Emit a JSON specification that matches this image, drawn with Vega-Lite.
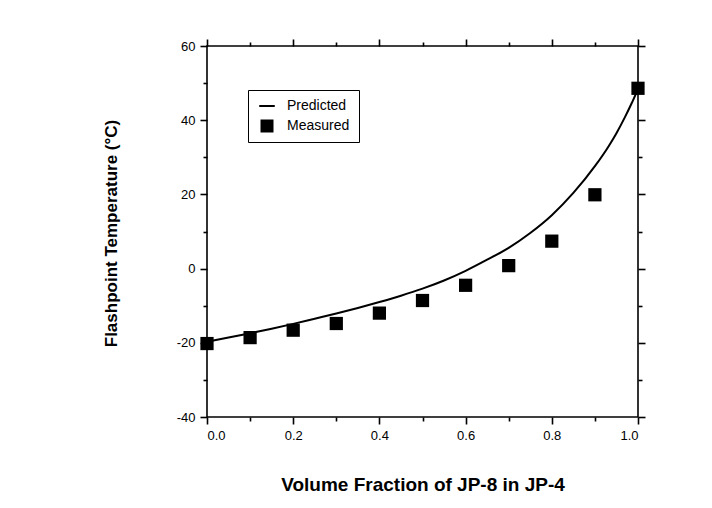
{
  "$schema": "https://vega.github.io/schema/vega-lite/v6.json",
  "width": 431,
  "height": 371,
  "autosize": {"type": "none"},
  "padding": {"left": 207, "top": 46, "right": 74, "bottom": 91},
  "background": "white",
  "config": {
    "font": "Liberation Sans",
    "view": {"stroke": "black", "strokeWidth": 1.6},
    "axis": {
      "domain": false,
      "grid": false,
      "tickColor": "black",
      "tickWidth": 1.6,
      "labelColor": "black",
      "labelFontSize": 13,
      "labelFont": "Liberation Sans",
      "titleColor": "black",
      "titleFont": "Liberation Sans",
      "titleFontWeight": "bold"
    }
  },
  "datasets": {
    "curve": [
      {"fraction": 0.0, "temp": -19.7},
      {"fraction": 0.05, "temp": -18.6},
      {"fraction": 0.1, "temp": -17.4},
      {"fraction": 0.15, "temp": -16.2},
      {"fraction": 0.2, "temp": -14.9},
      {"fraction": 0.25, "temp": -13.5},
      {"fraction": 0.3, "temp": -12.1},
      {"fraction": 0.35, "temp": -10.6},
      {"fraction": 0.4, "temp": -9.0},
      {"fraction": 0.45, "temp": -7.3},
      {"fraction": 0.5, "temp": -5.4},
      {"fraction": 0.55, "temp": -3.2},
      {"fraction": 0.6, "temp": -0.6},
      {"fraction": 0.65, "temp": 2.4},
      {"fraction": 0.7, "temp": 5.6},
      {"fraction": 0.75, "temp": 9.6},
      {"fraction": 0.8, "temp": 14.4},
      {"fraction": 0.85, "temp": 20.4},
      {"fraction": 0.9, "temp": 27.6},
      {"fraction": 0.933, "temp": 33.2},
      {"fraction": 0.95, "temp": 36.5},
      {"fraction": 0.97, "temp": 40.9},
      {"fraction": 0.985, "temp": 44.5},
      {"fraction": 1.0, "temp": 48.4}
    ],
    "measured": [
      {"fraction": 0.0, "temp": -20.2, "series": "Measured"},
      {"fraction": 0.1, "temp": -18.6, "series": "Measured"},
      {"fraction": 0.2, "temp": -16.6, "series": "Measured"},
      {"fraction": 0.3, "temp": -14.8, "series": "Measured"},
      {"fraction": 0.4, "temp": -12.0, "series": "Measured"},
      {"fraction": 0.5, "temp": -8.6, "series": "Measured"},
      {"fraction": 0.6, "temp": -4.5, "series": "Measured"},
      {"fraction": 0.7, "temp": 0.8, "series": "Measured"},
      {"fraction": 0.8, "temp": 7.4, "series": "Measured"},
      {"fraction": 0.9, "temp": 19.9, "series": "Measured"},
      {"fraction": 1.0, "temp": 48.6, "series": "Measured"}
    ]
  },
  "layer": [
    {
      "data": {"name": "curve"},
      "mark": {"type": "line", "color": "black", "strokeWidth": 2, "interpolate": "monotone"},
      "encoding": {
        "x": {
          "field": "fraction", "type": "quantitative",
          "scale": {"domain": [0, 1], "nice": false, "zero": false},
          "axis": {
            "orient": "bottom", "values": [0, 0.2, 0.4, 0.6, 0.8, 1], "format": ".1f",
            "tickSize": 7, "labelPadding": 5,
            "title": "Volume Fraction of JP-8 in JP-4", "titleFontSize": 19,
            "titleY": 73, "titleBaseline": "alphabetic"
          }
        },
        "y": {
          "field": "temp", "type": "quantitative",
          "scale": {"domain": [-40, 60], "nice": false, "zero": false},
          "axis": {
            "orient": "left", "values": [-40, -20, 0, 20, 40, 60], "labelExpr": "datum.value + ''",
            "tickSize": 7, "labelPadding": 5,
            "title": "Flashpoint Temperature (°C)", "titleFontSize": 17,
            "titleX": -91, "titleY": 187, "titleBaseline": "alphabetic", "titleAngle": -90, "titleAlign": "center"
          }
        }
      }
    },
    {
      "data": {"name": "measured"},
      "mark": {"type": "point", "filled": true, "opacity": 1, "size": 175, "color": "black"},
      "encoding": {
        "x": {
          "field": "fraction", "type": "quantitative",
          "scale": {"domain": [0, 1], "nice": false, "zero": false},
          "axis": {"orient": "bottom", "values": [0.1, 0.3, 0.5, 0.7, 0.9], "tickSize": 4, "labels": false, "title": null}
        },
        "y": {
          "field": "temp", "type": "quantitative",
          "scale": {"domain": [-40, 60], "nice": false, "zero": false},
          "axis": {"orient": "left", "values": [-30, -10, 10, 30, 50], "tickSize": 4, "labels": false, "title": null}
        },
        "shape": {
          "field": "series", "type": "nominal",
          "scale": {"domain": ["Predicted", "Measured"], "range": ["M-1.2,-0.15H1.2V0.15H-1.2Z", "square"]},
          "legend": {
            "orient": "none", "legendX": 41, "legendY": 44, "title": null,
            "padding": 9, "strokeColor": "black", "fillColor": "white",
            "labelFontSize": 14, "labelColor": "black", "labelFont": "Liberation Sans",
            "symbolSize": 169, "symbolStrokeWidth": 0, "symbolFillColor": "black",
            "rowPadding": 6, "labelOffset": 13, "symbolOffset": 3,
            "encode": {
              "legend": {"update": {"strokeWidth": {"value": 1.5}}},
              "symbols": {"update": {"fill": {"value": "black"}, "opacity": {"value": 1}}}
            }
          }
        }
      }
    },
    {
      "data": {"name": "measured"},
      "mark": {"type": "point", "opacity": 0},
      "encoding": {
        "x": {
          "field": "fraction", "type": "quantitative",
          "scale": {"domain": [0, 1], "nice": false, "zero": false},
          "axis": {"orient": "top", "values": [0, 0.2, 0.4, 0.6, 0.8, 1], "tickSize": 7, "labels": false, "title": null}
        },
        "y": {
          "field": "temp", "type": "quantitative",
          "scale": {"domain": [-40, 60], "nice": false, "zero": false},
          "axis": {"orient": "right", "values": [-40, -20, 0, 20, 40, 60], "tickSize": 7, "labels": false, "title": null}
        }
      }
    },
    {
      "data": {"name": "measured"},
      "mark": {"type": "point", "opacity": 0},
      "encoding": {
        "x": {
          "field": "fraction", "type": "quantitative",
          "scale": {"domain": [0, 1], "nice": false, "zero": false},
          "axis": {"orient": "top", "values": [0.1, 0.3, 0.5, 0.7, 0.9], "tickSize": 4, "labels": false, "title": null}
        },
        "y": {
          "field": "temp", "type": "quantitative",
          "scale": {"domain": [-40, 60], "nice": false, "zero": false},
          "axis": {"orient": "right", "values": [-30, -10, 10, 30, 50], "tickSize": 4, "labels": false, "title": null}
        }
      }
    }
  ],
  "resolve": {"axis": {"x": "independent", "y": "independent"}}
}
